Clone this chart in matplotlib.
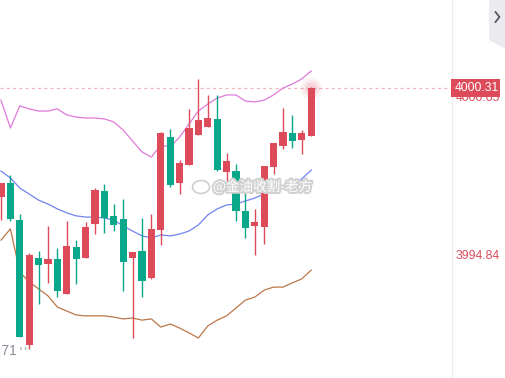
import matplotlib
matplotlib.use('Agg')
import matplotlib.pyplot as plt
import matplotlib.patheffects as pe
from matplotlib.patches import Rectangle, Polygon, Ellipse
from matplotlib.lines import Line2D
from matplotlib import transforms

# OHLC of the visible candles (left to right)
opens = [3996.71, 3997.18, 3995.95, 3991.83, 3994.70, 3994.50, 3994.67, 3993.51, 3995.06, 3994.70,
         3995.82, 3996.91, 3996.09, 3995.99, 3994.70, 3994.93, 3994.04, 3995.62, 3998.69, 3997.18,
         3997.77, 3998.76, 3999.02, 3999.29, 3997.54, 3997.57, 3996.25, 3995.76, 3995.72, 3997.70,
         3998.40, 3998.83, 3998.59, 3998.73]
highs = [3997.18, 3997.44, 3996.15, 3994.87, 3994.93, 3995.76, 3995.03, 3995.92, 3995.29, 3995.89,
         3997.01, 3997.14, 3996.48, 3996.65, 3994.90, 3996.02, 3996.15, 3998.86, 3998.96, 3997.93,
         3999.62, 4000.61, 4000.08, 4000.08, 3998.17, 3997.80, 3997.08, 3996.32, 3997.74, 3998.50,
         3999.65, 3999.42, 3998.92, 4000.34]
lows = [3995.95, 3995.92, 3992.09, 3991.71, 3993.18, 3993.88, 3993.41, 3993.51, 3993.84, 3994.70,
        3995.49, 3995.53, 3995.59, 3993.61, 3992.06, 3993.41, 3994.01, 3995.13, 3997.04, 3996.81,
        3997.77, 3998.76, 3999.02, 3997.57, 3997.14, 3995.92, 3995.36, 3994.80, 3995.16, 3997.47,
        3998.30, 3998.33, 3998.13, 3998.73]
closes = [3997.18, 3995.99, 3992.09, 3994.80, 3994.47, 3994.67, 3993.61, 3995.10, 3994.67, 3995.72,
          3996.94, 3996.02, 3995.79, 3994.57, 3994.90, 3993.94, 3995.66, 3998.83, 3997.11, 3997.84,
          3998.99, 3999.25, 3999.32, 3997.60, 3997.90, 3996.25, 3995.69, 3995.89, 3997.74, 3998.50,
          3998.86, 3998.56, 3998.83, 4000.31]

# Bollinger bands
boll_up = [3999.91, 3998.99, 3999.72, 3999.62, 3999.55, 3999.55, 3999.62, 3999.42, 3999.35, 3999.32,
           3999.32, 3999.29, 3999.19, 3998.92, 3998.56, 3998.20, 3998.03, 3998.43, 3998.36, 3998.69,
           3999.12, 3999.55, 3999.78, 3999.98, 4000.08, 4000.08, 3999.88, 3999.85, 3999.91, 4000.08,
           4000.31, 4000.44, 4000.61, 4000.87]
boll_mid = [3997.57, 3997.34, 3997.01, 3996.81, 3996.61, 3996.48, 3996.32, 3996.19, 3996.09, 3996.05,
            3996.05, 3996.02, 3995.95, 3995.76, 3995.59, 3995.43, 3995.36, 3995.46, 3995.43, 3995.49,
            3995.59, 3995.79, 3996.12, 3996.32, 3996.45, 3996.48, 3996.58, 3996.68, 3996.81, 3996.91,
            3997.01, 3997.11, 3997.31, 3997.60]
boll_low = [3995.29, 3995.66, 3994.24, 3993.91, 3993.68, 3993.45, 3993.08, 3992.95, 3992.82, 3992.79,
            3992.79, 3992.79, 3992.75, 3992.69, 3992.72, 3992.65, 3992.69, 3992.42, 3992.52, 3992.39,
            3992.23, 3992.06, 3992.46, 3992.65, 3992.79, 3993.05, 3993.31, 3993.41, 3993.64, 3993.74,
            3993.74, 3993.88, 3994.01, 3994.30]

last_price = 4000.31
hidden_tick = 4000.05
axis_tick = 3994.84
low_label = 3991.71
watermark = '@金油收割-老方'

RED = '#dd4b5b'
GREEN = '#0aa88a'

W, H = 506, 378
fig = plt.figure(figsize=(W / 100, H / 100), dpi=100)
fig.patch.set_facecolor('white')
ax = fig.add_axes([0, 0, 452 / W, 1])
ax.axis('off')

n = len(closes)
idx = list(range(n))
ax.set_xlim(-0.106, 47.98)
ax.set_ylim(3990.74, 4003.214)

# bands
ax.plot(idx, boll_up, color='#e07ad8', lw=0.9, zorder=2)
ax.plot(idx, boll_mid, color='#6f82f0', lw=0.9, zorder=2)
ax.plot(idx, boll_low, color='#bb7748', lw=0.9, zorder=2)

# last price dashed line
ax.axhline(last_price, color='#f2b5bb', lw=0.9, ls=(0, (2.5, 2.5)), zorder=1)

# candles
for i in idx:
    o, h, l, c = opens[i], highs[i], lows[i], closes[i]
    col = RED if c >= o else GREEN
    ax.vlines(i, l, h, color=col, lw=1.0, zorder=3)
    bot = min(o, c)
    ht = max(abs(c - o), 0.04)
    ax.bar(i, ht, bottom=bot, width=0.75, color=col, linewidth=0, zorder=4)

# glow on last candle
for r, a in [(16, 0.06), (12, 0.08), (8, 0.12)]:
    ax.scatter([n - 1], [last_price], s=r ** 2, color=RED, alpha=a, lw=0, zorder=5)


def px(x, y):
    return (x / W, 1 - y / H)


blend = transforms.blended_transform_factory(fig.transFigure, ax.transData)

# right price axis
fig.add_artist(Line2D([452 / W, 452 / W], [0, 1], color='#ececec', lw=0.8))
fig.text(456 / W, hidden_tick - 0.08, '%.2f' % hidden_tick, transform=blend, color=RED,
         fontsize=8.7, family='Liberation Sans', va='center', ha='left')
fig.add_artist(Rectangle((451 / W, last_price - 0.29), 49 / W, 0.58, transform=blend,
                         color=RED, lw=0, zorder=5))
fig.text(455 / W, last_price, '%.2f' % last_price, transform=blend, color='white',
         fontsize=8.7, family='Liberation Sans', va='center', ha='left', zorder=6)
fig.text(456 / W, axis_tick - 0.08, '%.2f' % axis_tick, transform=blend, color=RED,
         fontsize=8.7, family='Liberation Sans', va='center', ha='left')

# low label at left bottom
ax.text(1.68, low_label - 0.08, '%.2f' % low_label, color='#8c8c99', fontsize=10,
        family='Liberation Sans', va='center', ha='right', clip_on=False)
ax.plot([2.0, 2.8], [low_label + 0.02, low_label + 0.02], color='#8c8c99', lw=1.8,
        ls=(0, (0.4, 1.5)), zorder=2)

# top right tab
fig.add_artist(Polygon([px(489, 0), px(506, 0), px(506, 49), px(489, 40)],
                       closed=True, color='#ebebef', lw=0))
fig.add_artist(Line2D([495.5 / W, 499.5 / W, 495.5 / W], [1 - 12 / H, 1 - 17 / H, 1 - 22 / H],
                      color='#555b66', lw=1.3))

# watermark
fig.add_artist(Ellipse(px(201, 187), 17 / W, 13 / H, facecolor='white', edgecolor='#cfcfcf', lw=1.2))
fig.text(213 / W, 1 - 187 / H, watermark, color='white', fontsize=9.8,
         family=['Noto Sans CJK SC', 'DejaVu Sans'], va='center', ha='left',
         path_effects=[pe.withStroke(linewidth=3, foreground='#d2d2d2')], zorder=7)

fig.savefig('out.png', dpi=100)
